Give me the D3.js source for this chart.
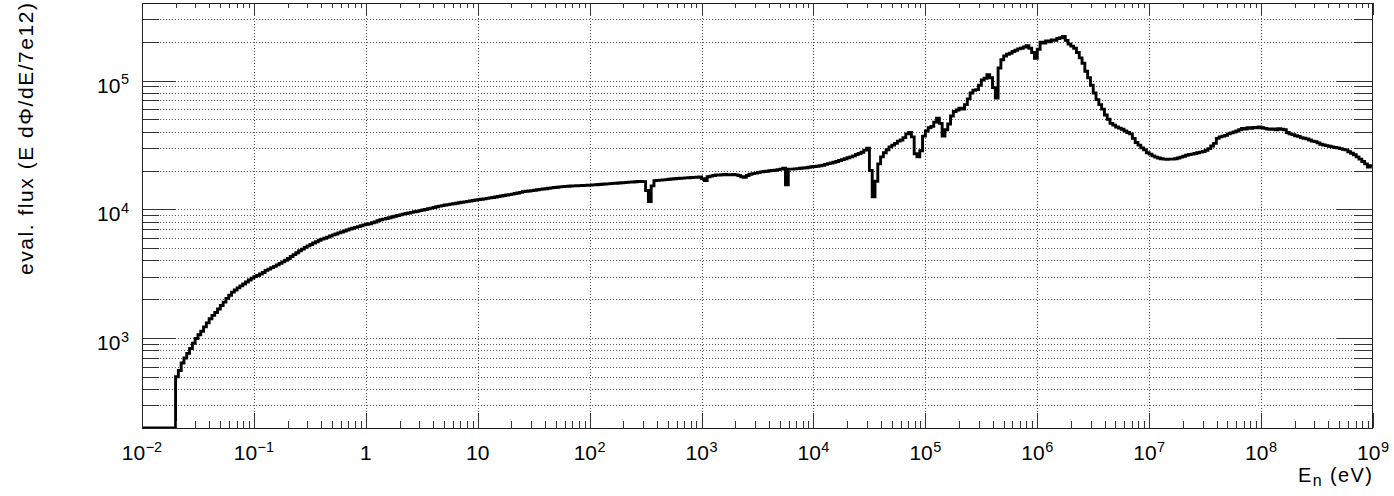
<!DOCTYPE html>
<html>
<head>
<meta charset="utf-8">
<script src="https://cdn.jsdelivr.net/npm/d3@7"></script>
<style>
  body { margin: 0; background: #fff; }
  svg { display: block; }
  text { font-family: "Liberation Sans", Arial, Helvetica, sans-serif; fill: #000; }
</style>
</head>
<body>
<svg id="chart" width="1394" height="496"></svg>
<script>
// Histogram definition: log-uniform bins in neutron energy (eV)
const logEMin = -2;
const logEMax = 9;
const binsPerDecade = 40;

// Evaluated flux per bin, one row per decade (10^-2 ... 10^8 eV)
const fluxDecM2 = [0, 0, 0, 0, 0, 0, 0, 0, 0, 0, 0, 0,
  500, 560, 640, 700, 760, 830, 910, 990, 1060, 1130, 1220, 1310, 1410, 1500,
  1580, 1680, 1790, 1900, 2030, 2150, 2270, 2360, 2450, 2540, 2630, 2720, 2820, 2920];
const fluxDecM1 = [3000, 3060, 3140, 3230, 3350, 3430, 3520, 3600, 3700, 3800,
  3900, 4020, 4150, 4300, 4440, 4600, 4760, 4900, 5060, 5200,
  5330, 5470, 5600, 5740, 5860, 5960, 6080, 6200, 6320, 6430,
  6550, 6660, 6780, 6900, 7020, 7120, 7230, 7330, 7450, 7560];
const fluxDec0 = [7640, 7720, 7850, 7960, 8150, 8280, 8390, 8480, 8600, 8700,
  8820, 8950, 9050, 9160, 9260, 9360, 9460, 9560, 9660, 9760,
  9860, 9960, 10080, 10200, 10330, 10450, 10580, 10680, 10780, 10870,
  10960, 11050, 11140, 11240, 11330, 11420, 11520, 11600, 11700, 11800];
const fluxDec1 = [11880, 11960, 12050, 12150, 12250, 12350, 12450, 12560, 12680, 12800,
  12900, 13000, 13120, 13250, 13380, 13520, 13700, 13800, 13880, 13960,
  14060, 14160, 14260, 14350, 14450, 14550, 14650, 14740, 14830, 14920,
  15000, 15060, 15100, 15150, 15200, 15230, 15270, 15300, 15330, 15370];
const fluxDec2 = [15400, 15460, 15520, 15580, 15640, 15700, 15760, 15820, 15880, 15930,
  15990, 16050, 16110, 16180, 16250, 16300, 16360, 16420, 16480, 16400,
  14000, 11500, 15200, 16700, 16760, 16840, 16920, 17000, 17100, 17180,
  17250, 17320, 17400, 17450, 17520, 17580, 17640, 17700, 17750, 17800];
const fluxDec3 = [17300, 16700, 17900, 18100, 18300, 18500, 18450, 18550, 18600, 18550,
  18500, 18600, 18500, 18300, 17900, 17700, 18300, 18700, 18900, 19100,
  19300, 19500, 19650, 19750, 19900, 20000, 20100, 20300, 20500, 20800,
  15500, 20500, 20500, 20600, 20700, 20800, 20900, 21000, 21200, 21400];
const fluxDec4 = [21500, 21600, 21800, 22000, 22300, 22600, 22900, 23200, 23500, 23900,
  24300, 24700, 25100, 25500, 26000, 26600, 27100, 27700, 28800, 29800,
  20000, 12500, 16500, 22500, 25500, 27500, 29000, 30500, 31500, 32500,
  33800, 34500, 36000, 38500, 39500, 36500, 27000, 25500, 28500, 37000];
const fluxDec5 = [40500, 43000, 44000, 47500, 51000, 46500, 37000, 41500, 46000, 53000,
  57500, 59000, 61000, 60000, 65000, 72000, 80000, 84000, 85000, 92000,
  101000, 104000, 111000, 105000, 88000, 73000, 125000, 145000, 155000, 160000,
  163000, 168000, 172000, 176000, 178000, 182000, 186000, 178000, 165000, 149000];
const fluxDec6 = [175000, 198000, 195000, 203000, 200000, 207000, 205000, 212000, 215000, 220000,
  205000, 192000, 185000, 178000, 165000, 150000, 136000, 118000, 105000, 92000,
  80000, 71000, 65000, 60000, 54000, 50000, 46500, 45000, 43500, 42700,
  41800, 40500, 39500, 38500, 35500, 33000, 31500, 30000, 29000, 27500];
const fluxDec7 = [26800, 26000, 25400, 25000, 24700, 24500, 24400, 24500, 24500, 24700,
  25000, 25400, 25800, 26300, 26600, 26800, 27100, 27500, 27800, 28100,
  28700, 29600, 31000, 32500, 35500, 36500, 37000, 37500, 38500, 39200,
  39800, 40500, 41500, 42500, 42000, 43000, 42500, 43200, 43000, 43500];
const fluxDec8 = [43000, 42500, 42000, 41800, 42000, 41500, 42300, 41800, 41500, 39500,
  38500, 38000, 37200, 36800, 36000, 35600, 35200, 34500, 33800, 33500,
  32800, 32000, 31600, 31200, 30900, 30500, 30200, 30000, 29600, 29200,
  28900, 28000, 27200, 26500, 25500, 24500, 23500, 22500, 21300, 21800];

// Axis ranges and tick decades
const yMin = 200, yMax = 4e5;
const xMajorDecades = [-2, -1, 0, 1, 2, 3, 4, 5, 6, 7, 8, 9];
const yMajorDecades = [3, 4, 5];
const minorMultipliers = [2, 3, 4, 5, 6, 7, 8, 9];

const xTitleMain = "E", xTitleSub = "n", xTitleRest = " (eV)";
const yTitle = "eval. flux (E d\u03A6/dE/7e12)";

const flux = [].concat(fluxDecM2, fluxDecM1, fluxDec0, fluxDec1, fluxDec2,
                       fluxDec3, fluxDec4, fluxDec5, fluxDec6, fluxDec7, fluxDec8);

// Plot frame
const frame = { left: 142, right: 1373, top: 3, bottom: 428 };

const svg = d3.select("#chart");

const x = d3.scaleLog()
  .domain([Math.pow(10, logEMin), Math.pow(10, logEMax)])
  .range([frame.left, frame.right]);
const y = d3.scaleLog()
  .domain([yMin, yMax])
  .range([frame.bottom, frame.top]);

// ---- grid (dotted) ----
const grid = svg.append("g")
  .attr("stroke", "#555")
  .attr("stroke-width", 1)
  .attr("stroke-dasharray", "1,2")
  .attr("shape-rendering", "crispEdges");

xMajorDecades.slice(1, -1).forEach(d => {
  const px = Math.round(x(Math.pow(10, d))) + 0.5;
  grid.append("line").attr("x1", px).attr("x2", px)
    .attr("y1", frame.top).attr("y2", frame.bottom);
});

const yGridValues = [];
for (let d = 2; d <= 5; d++) {
  [1].concat(minorMultipliers).forEach(m => {
    const v = m * Math.pow(10, d);
    if (v > yMin && v < yMax) yGridValues.push(v);
  });
}
yGridValues.forEach(v => {
  const py = Math.round(y(v)) + 0.5;
  grid.append("line").attr("x1", frame.left).attr("x2", frame.right)
    .attr("y1", py).attr("y2", py);
});

// ---- histogram (step line) ----
const nBins = flux.length;
const pts = [];
for (let i = 0; i < nBins; i++) {
  const lo = Math.pow(10, logEMin + i / binsPerDecade);
  pts.push([lo, flux[i]]);
}
pts.push([Math.pow(10, logEMin + nBins / binsPerDecade), flux[nBins - 1]]);

svg.append("clipPath").attr("id", "plotClip")
  .append("rect")
  .attr("x", frame.left).attr("y", frame.top)
  .attr("width", frame.right - frame.left)
  .attr("height", frame.bottom - frame.top);

const line = d3.line()
  .x(p => x(p[0]))
  .y(p => p[1] > 0 ? y(p[1]) : frame.bottom)
  .curve(d3.curveStepAfter);

svg.append("path")
  .datum(pts)
  .attr("clip-path", "url(#plotClip)")
  .attr("fill", "none")
  .attr("stroke", "#000")
  .attr("stroke-width", 2.9)
  .attr("stroke-linejoin", "miter")
  .attr("d", line);

// ---- ticks ----
const ticks = svg.append("g")
  .attr("stroke", "#333")
  .attr("stroke-width", 1)
  .attr("shape-rendering", "crispEdges");

xMajorDecades.forEach((d, k) => {
  const px = Math.round(x(Math.pow(10, d))) + 0.5;
  ticks.append("line").attr("x1", px).attr("x2", px)
    .attr("y1", frame.bottom).attr("y2", frame.bottom - 15);
  ticks.append("line").attr("x1", px).attr("x2", px)
    .attr("y1", frame.top).attr("y2", frame.top + 12);
  if (k < xMajorDecades.length - 1) {
    minorMultipliers.forEach(m => {
      const mx = Math.round(x(m * Math.pow(10, d))) + 0.5;
      ticks.append("line").attr("x1", mx).attr("x2", mx)
        .attr("y1", frame.bottom).attr("y2", frame.bottom - 7);
      ticks.append("line").attr("x1", mx).attr("x2", mx)
        .attr("y1", frame.top).attr("y2", frame.top + 5);
    });
  }
});

yGridValues.forEach(v => {
  const py = Math.round(y(v)) + 0.5;
  const major = Math.abs(Math.log10(v) - Math.round(Math.log10(v))) < 1e-9;
  ticks.append("line").attr("x1", frame.left).attr("x2", frame.left + (major ? 34 : 17))
    .attr("y1", py).attr("y2", py);
  ticks.append("line").attr("x1", frame.right).attr("x2", frame.right - (major ? 36 : 19))
    .attr("y1", py).attr("y2", py);
});

// ---- frame ----
svg.append("rect")
  .attr("x", frame.left + 0.5).attr("y", frame.top + 0.5)
  .attr("width", frame.right - frame.left - 1)
  .attr("height", frame.bottom - frame.top)
  .attr("fill", "none")
  .attr("stroke", "#222")
  .attr("stroke-width", 1)
  .attr("shape-rendering", "crispEdges");

// ---- tick labels ----
function powerLabel(g, d, px, py, anchor) {
  const t = g.append("text")
    .attr("x", px).attr("y", py)
    .attr("text-anchor", anchor)
    .attr("font-size", 21);
  if (d === 0) { t.text("1"); return; }
  if (d === 1) { t.text("10"); return; }
  t.append("tspan").text("10");
  t.append("tspan")
    .attr("font-size", 14.5)
    .attr("dx", 0.5)
    .attr("dy", -8.5)
    .text(d < 0 ? "\u2212" + (-d) : String(d));
}

const xLabels = svg.append("g");
xMajorDecades.forEach(d => {
  powerLabel(xLabels, d, x(Math.pow(10, d)), 460, "middle");
});

const yLabels = svg.append("g");
yMajorDecades.forEach(d => {
  powerLabel(yLabels, d, 129, y(Math.pow(10, d)) + 12, "end");
});

// ---- axis titles ----
const xt = svg.append("text")
  .attr("x", frame.right - 1).attr("y", 482)
  .attr("text-anchor", "end")
  .attr("font-size", 20)
  .attr("textLength", 74)
  .attr("lengthAdjust", "spacing");
xt.append("tspan").text(xTitleMain);
xt.append("tspan").attr("font-size", 16).attr("dy", 4).text(xTitleSub);
xt.append("tspan").attr("dy", -4).text(xTitleRest);

svg.append("text")
  .attr("transform", `translate(33,${frame.top}) rotate(-90)`)
  .attr("text-anchor", "end")
  .attr("font-size", 21)
  .attr("textLength", 272)
  .attr("lengthAdjust", "spacing")
  .text(yTitle);
</script>
</body>
</html>
